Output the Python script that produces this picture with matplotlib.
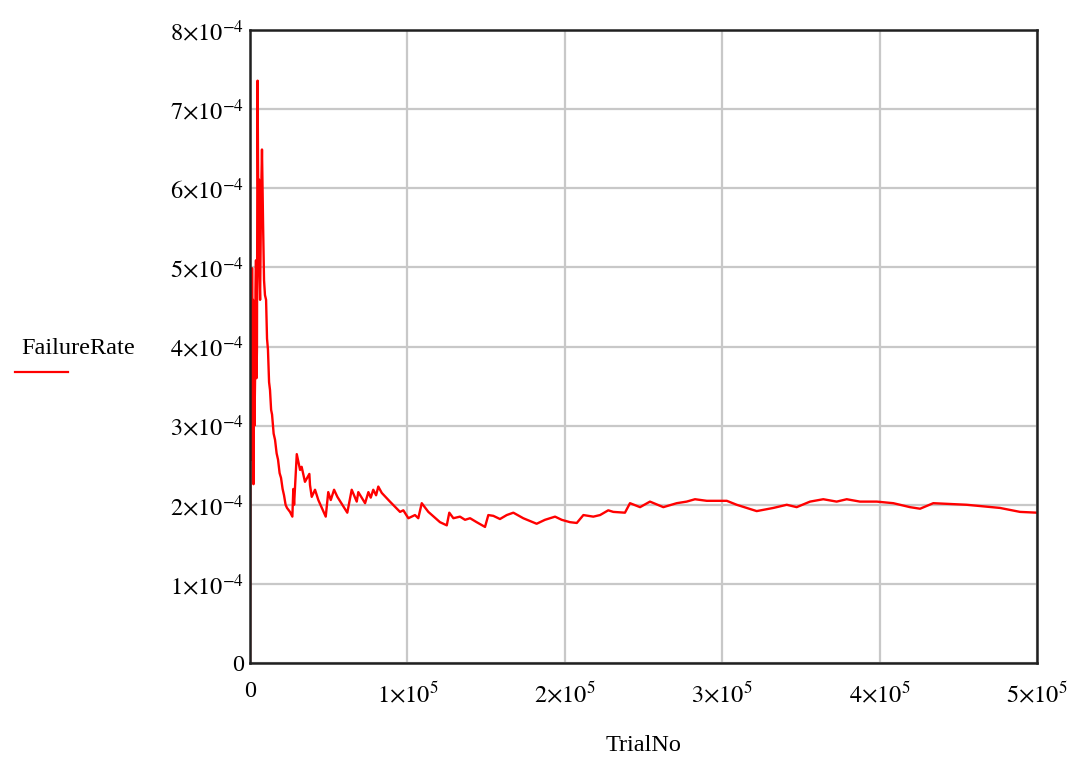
import matplotlib
matplotlib.use('Agg')
import matplotlib.pyplot as plt
from matplotlib.lines import Line2D
from matplotlib.ticker import FuncFormatter, MultipleLocator
import numpy as np

plt.rcParams['font.family'] = ['Liberation Serif', 'DejaVu Serif']
plt.rcParams['mathtext.fontset'] = 'stix'

# trial number (thousands) and failure rate (units of 1e-5)
trial_k = [0, 0.3, 0.6, 1.0, 1.3, 1.6, 1.9, 2.2, 2.5, 2.8, 3.2, 3.5, 3.8, 4.1, 4.4,
           4.8, 5.4, 5.7, 6.0, 6.4, 7.0, 7.6, 8.3, 8.9, 9.5, 10.2, 10.8, 11.4,
           12.1, 12.7, 13.4, 14.0, 15.0, 15.9, 16.9, 17.8, 18.8, 19.7, 20.7, 21.6,
           22.6, 23.5, 25.4, 26.9, 27.5, 28.0, 29.7, 31.8, 32.8, 34.9, 37.7, 38.1,
           39.2, 41.3, 43.4, 48.1, 49.7, 51.3, 53.4, 55.5, 61.8, 64.6, 67.8, 68.8,
           73.1, 75.2, 76.7, 78.3, 80.1, 81.5, 83.7, 88.9, 95.3, 97.4, 100.6, 104.8,
           106.9, 109.1, 113.3, 120.7, 125.0, 126.6, 129.2, 133.4, 136.6, 139.8,
           144.0, 149.3, 151.4, 154.6, 158.8, 163.1, 167.3, 173.6, 182.1, 187.4,
           193.8, 198.0, 203.3, 207.6, 211.8, 218.1, 222.4, 227.6, 230.8, 238.2,
           241.4, 247.8, 254.1, 262.6, 271.1, 277.4, 282.7, 290.2, 302.9, 309.2,
           321.9, 332.5, 341.0, 347.3, 355.8, 364.2, 372.7, 379.1, 387.5, 398.2,
           408.7, 419.3, 425.7, 434.1, 444.7, 455.3, 465.9, 476.5, 489.2, 500.0]
rate_e5 = [0, 30.7, 45.9, 25.7, 49.9, 33.2, 45.9, 22.6, 43.4, 30.0, 35.8, 47.0, 50.9,
           36.0, 39.6, 73.6, 52.2, 61.1, 49.0, 45.9, 58.5, 64.9, 55.4, 48.4, 46.5,
           45.9, 41.0, 39.6, 35.5, 34.5, 32.0, 31.4, 29.0, 28.2, 26.5, 25.7, 24.0,
           23.4, 22.0, 21.2, 20.0, 19.6, 19.1, 18.5, 22.0, 20.0, 26.4, 24.4, 24.8,
           22.9, 23.9, 22.5, 21.0, 21.9, 20.6, 18.5, 21.6, 20.6, 21.9, 21.0, 19.0,
           21.9, 20.4, 21.6, 20.2, 21.6, 20.9, 21.9, 21.2, 22.3, 21.5, 20.4, 19.1,
           19.3, 18.3, 18.7, 18.3, 20.2, 19.1, 17.8, 17.4, 19.0, 18.3, 18.5, 18.1,
           18.3, 17.8, 17.2, 18.7, 18.6, 18.2, 18.7, 19.0, 18.3, 17.6, 18.1, 18.5,
           18.1, 17.8, 17.7, 18.7, 18.5, 18.7, 19.3, 19.1, 19.0, 20.2, 19.7, 20.4,
           19.7, 20.2, 20.4, 20.7, 20.5, 20.5, 20.0, 19.2, 19.6, 20.0, 19.7, 20.4,
           20.7, 20.4, 20.7, 20.4, 20.4, 20.2, 19.7, 19.5, 20.2, 20.1, 20.0, 19.8,
           19.6, 19.1, 19.0]

x = np.array(trial_k) * 1e3
y = np.array(rate_e5) * 1e-5


def sci(v, p, exp):
    if v == 0:
        return '0'
    m = int(round(v / 10**exp))
    return r'$%d{\times}10^{%d}$' % (m, exp)


fig = plt.figure(figsize=(10.8, 7.6), dpi=100)
ax = fig.add_axes([0.2315, 0.1276, 0.7287, 0.8329])
ax.plot(x, y, color='red', linewidth=1.7)
ax.set_xlim(0, 5e5)
ax.set_ylim(0, 8e-4)
ax.xaxis.set_major_locator(MultipleLocator(1e5))
ax.yaxis.set_major_locator(MultipleLocator(1e-4))
ax.xaxis.set_major_formatter(FuncFormatter(lambda v, p: sci(v, p, 5)))
ax.yaxis.set_major_formatter(FuncFormatter(lambda v, p: sci(v, p, -4)))
ax.grid(True, color='#c8c8c8', linewidth=1.6)
ax.tick_params(length=0, labelsize=17.5)
ax.tick_params(axis='x', pad=13)
ax.tick_params(axis='y', pad=4)
for s in ax.spines.values():
    s.set_linewidth(1.8)
    s.set_color('#202020')

ax.set_xlabel('TrialNo', fontsize=17.5, labelpad=20)
fig.text(0.072, 0.541, 'FailureRate', fontsize=17.5, ha='center', va='center')
fig.add_artist(Line2D([0.014, 0.063], [0.511, 0.511], color='red', linewidth=1.6))

fig.savefig('out.png', dpi=100)
